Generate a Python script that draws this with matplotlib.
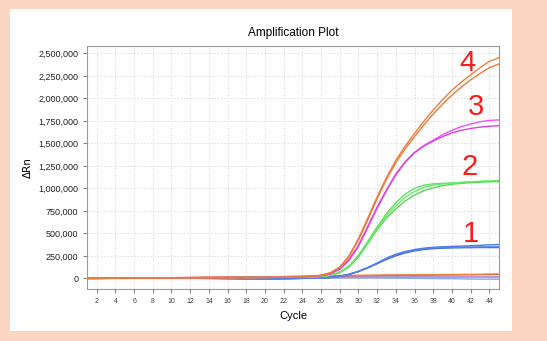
import numpy as np
import matplotlib.pyplot as plt
from matplotlib.patches import Rectangle

cycles = np.arange(1, 46)

# delta Rn values in thousands, one value per cycle 1..45
base = [0, 0, 0, 1, 1, 2, 3, 3, 4, 4, 5, 5, 6, 6, 7, 7, 8, 8, 9, 10,
        11, 12, 14, 17, 22]

orange_a = base + [35, 62, 125, 250, 441, 670, 905, 1120, 1310, 1470, 1610, 1745, 1870, 1985,
                   2090, 2180, 2260, 2340, 2410, 2450]
orange_b = base + [34, 60, 120, 240, 425, 650, 885, 1100, 1285, 1440, 1575, 1705, 1825, 1935,
                   2035, 2125, 2205, 2275, 2340, 2380]
magenta_a = base + [30, 52, 105, 210, 367, 580, 793, 985, 1160, 1295, 1400, 1475, 1535, 1595,
                    1645, 1685, 1715, 1740, 1755, 1760]
magenta_b = base + [29, 50, 100, 200, 355, 565, 780, 975, 1150, 1290, 1395, 1470, 1525, 1575,
                    1615, 1645, 1665, 1680, 1690, 1695]
green_a = base[:22] + [12, 13, 15, 20, 35, 70, 140, 256, 410, 571, 720, 840, 935, 1000, 1035,
                       1050, 1055, 1060, 1065, 1070, 1075, 1080, 1085]
green_b = base[:22] + [12, 13, 15, 18, 32, 62, 125, 235, 385, 540, 670, 770, 860, 925, 975,
                       1005, 1030, 1045, 1055, 1062, 1068, 1072, 1075]
green_c = base[:22] + [12, 13, 15, 19, 33, 66, 132, 245, 398, 555, 695, 805, 900, 965, 1010,
                       1035, 1048, 1058, 1065, 1072, 1078, 1082, 1088]
blue_a = [0, 0, 0, 0, 0, 0, 0, 0, 0, 0, 0, 0, 0, -1, -2, -3, -4, -5, -5, -5,
          -5, -4, -2, 0, 2, 5, 10, 25, 45, 80, 120, 170, 225, 267, 298, 320, 335, 345, 350,
          355, 358, 362, 367, 372, 375]
blue_b = [0, 0, 0, 0, 0, 0, 0, 0, 0, 0, 0, 0, 0, -1, -2, -3, -4, -5, -5, -5,
          -5, -4, -2, 0, 2, 5, 9, 22, 42, 75, 115, 162, 210, 250, 282, 305, 320, 330, 335,
          338, 340, 341, 342, 342, 342]
blue_c = [0, 0, 0, 0, 0, 0, 0, 0, 0, 0, 0, 0, 0, -1, -2, -3, -4, -5, -5, -5,
          -5, -4, -2, 0, 2, 5, 9, 23, 43, 77, 118, 166, 218, 258, 290, 312, 327, 337, 342,
          345, 347, 348, 349, 350, 350]

# flat (negative) wells
flat_orange = [0, 0, 0, 0, 0, 1, 3, 5, 6, 7, 8, 9, 10, 11, 12, 13, 14, 15, 16, 17,
               18, 20, 22, 24, 26, 28, 30, 31, 32, 33, 34, 35, 36, 37, 38, 39, 40, 41, 42,
               42, 43, 44, 45, 47, 48]
flat_red = [0, 0, 0, 0, 0, 1, 2, 4, 5, 6, 7, 8, 9, 10, 11, 12, 13, 14, 15, 16,
            17, 18, 20, 22, 24, 26, 27, 28, 29, 30, 31, 32, 33, 34, 35, 35, 36, 37, 38,
            38, 39, 40, 41, 42, 43]
flat_green = [0, 0, 0, 0, 0, 1, 2, 3, 4, 5, 6, 7, 8, 9, 10, 10, 11, 11, 12, 12,
              13, 13, 14, 14, 15, 15, 15, 16, 16, 16, 17, 17, 17, 18, 18, 18, 19, 19, 19,
              18, 17, 16, 16, 15, 15]
flat_blue = [-3, 0, 0, 0, 0, 0, 0, 0, 0, 0, 0, 0, 1, 1, 1, 0, -2, -4, -5, -6,
             -6, -5, -4, -2, 0, 1, 2, 3, 3, 3, 3, 3, 2, 2, 1, 0, -1, -2, -3,
             -4, -6, -8, -9, -10, -10]
flat_purple = [-5, -3, 0, 1, 2, 3, 4, 5, 6, 7, 8, 9, 10, 11, 12, 12, 12, 12, 12, 12,
               12, 12, 13, 13, 13, 13, 13, 13, 13, 13, 14, 14, 14, 14, 14, 14, 14, 14, 14,
               14, 14, 15, 15, 15, 15]

series = [
    (flat_blue, "#8fa6f0"), (flat_green, "#6fd39a"), (flat_purple, "#c77de8"),
    (flat_red, "#e84545"), (flat_orange, "#f0803c"),
    (blue_a, "#4a78e6"), (blue_b, "#3a66da"), (blue_c, "#5582ea"),
    (green_a, "#5fe05f"), (green_b, "#58d858"), (green_c, "#6ae86a"),
    (magenta_a, "#f050f0"), (magenta_b, "#e040e0"),
    (orange_a, "#f07f3c"), (orange_b, "#ec7a38"),
]

labels = ["1", "2", "3", "4"]
label_pos = [(42.0, 497), (41.9, 1240), (42.6, 1905), (41.7, 2390)]

fig = plt.figure(figsize=(5.47, 3.41), dpi=100)
fig.patch.set_facecolor("#fcd6c3")
fig.patches.append(Rectangle((0.0183, 0.028), 0.918, 0.946, transform=fig.transFigure,
                             facecolor="white", edgecolor="none", zorder=-5))

ax = fig.add_axes([0.1597, 0.1516, 0.7531, 0.7134])
ax.set_facecolor("white")

for vals, col in series:
    ax.plot(cycles, np.array(vals) * 1000, color=col, lw=1.0)

for txt, (cx, cy) in zip(labels, label_pos):
    ax.text(cx, cy * 1000, txt, color="#ff1a1a", fontsize=21, ha="center", va="center",
            family="Liberation Sans")

ax.set_xlim(1, 45.07)
ax.set_ylim(-122000, 2581000)
ax.set_xticks(np.arange(2, 45, 2))
ax.set_yticks(np.arange(0, 2500001, 250000))
ax.set_yticklabels([f"{v:,}" for v in range(0, 2500001, 250000)])
ax.tick_params(axis="y", labelsize=6.5, length=3, color="#888888", labelcolor="#222222")
ax.tick_params(axis="x", labelsize=5, length=3, color="#888888", labelcolor="#444444")
for lab in ax.get_xticklabels() + ax.get_yticklabels():
    lab.set_family("Liberation Sans")
ax.grid(True, color="#dcdcdc", ls=(0, (2, 2)), lw=0.6)
ax.set_axisbelow(True)
for sp in ax.spines.values():
    sp.set_color("#9a9a9a")
    sp.set_linewidth(0.8)

ax.set_title("Amplification Plot", fontsize=8.5, family="Liberation Sans", pad=7)
ax.set_xlabel("Cycle", fontsize=8, family="Liberation Sans", labelpad=4)
ax.set_ylabel("ΔRn", fontsize=7.5, family="DejaVu Sans", labelpad=4)

fig.savefig("out.png", dpi=100, facecolor=fig.get_facecolor())
